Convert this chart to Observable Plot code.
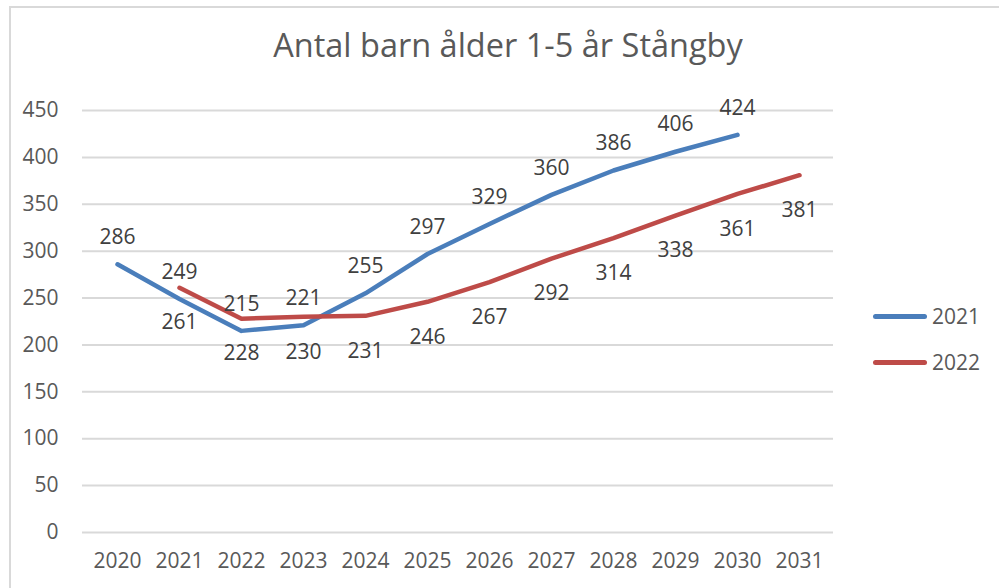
<!DOCTYPE html>
<html>
<head>
<meta charset="utf-8">
<script src="https://cdn.jsdelivr.net/npm/d3@7"></script>
<script src="https://cdn.jsdelivr.net/npm/@observablehq/plot@0.6"></script>
<style>
  html, body { margin: 0; padding: 0; background: #fff; }
  #wrap { position: relative; width: 999px; height: 588px; overflow: hidden; font-family: "Open Sans", sans-serif; }
  #border { position: absolute; left: 9px; top: 6px; width: 1200px; height: 800px; border: 2px solid #d9d9d9; box-sizing: border-box; }
  #title { position: absolute; left: 0; top: 22px; width: 1016px; text-align: center; font-size: 32.5px; color: #595959; line-height: 46px; }
  #chart { position: absolute; left: 0; top: 0; }
  #legend { position: absolute; left: 873px; top: 293px; font-size: 21px; color: #595959; }
  .item { display: flex; align-items: center; height: 46px; }
  .sw { width: 54px; height: 5px; border-radius: 3px; margin-right: 5px; }
</style>
</head>
<body>
<div id="wrap">
  <div id="border"></div>
  <div id="chart"></div>
  <div id="title">Antal barn ålder 1-5 år Stångby</div>
  <div id="legend"></div>
</div>
<script>
const years = ["2020","2021","2022","2023","2024","2025","2026","2027","2028","2029","2030","2031"];
const seriesNames = ["2021", "2022"];
const seriesColors = ["#4A7EBB", "#BE4B48"];
const years2021 = ["2020","2021","2022","2023","2024","2025","2026","2027","2028","2029","2030"];
const values2021 = [286, 249, 215, 221, 255, 297, 329, 360, 386, 406, 424];
const years2022 = ["2021","2022","2023","2024","2025","2026","2027","2028","2029","2030","2031"];
const values2022 = [261, 228, 230, 231, 246, 267, 292, 314, 338, 361, 381];
const yTicks = [0, 50, 100, 150, 200, 250, 300, 350, 400, 450];

const d21 = years2021.map((y, i) => ({year: y, value: values2021[i]}));
const d22 = years2022.map((y, i) => ({year: y, value: values2022[i]}));

const chart = Plot.plot({
  width: 999,
  height: 588,
  marginLeft: 82,
  marginRight: 166,
  marginTop: 110,
  marginBottom: 56,
  style: {fontFamily: "'Open Sans', sans-serif", fontSize: "21px", color: "#595959", background: "transparent"},
  x: {type: "point", domain: years, padding: 0.5, label: null},
  y: {domain: [0, 450], label: null},
  marks: [
    Plot.gridY(yTicks, {stroke: "#d9d9d9", strokeOpacity: 1, strokeWidth: 2}),
    Plot.axisY(yTicks, {tickSize: 0, tickPadding: 24, fill: "#595959", fontSize: 21, label: null}),
    Plot.axisX(years, {tickSize: 0, tickPadding: 21, fill: "#595959", fontSize: 21, label: null}),
    Plot.line(d21, {x: "year", y: "value", stroke: seriesColors[0], strokeWidth: 4.5, strokeLinecap: "round", strokeLinejoin: "round"}),
    Plot.line(d22, {x: "year", y: "value", stroke: seriesColors[1], strokeWidth: 4.5, strokeLinecap: "round", strokeLinejoin: "round"}),
    Plot.text(d21, {x: "year", y: "value", text: d => String(d.value), dy: -27, fill: "#404040", fontSize: 21}),
    Plot.text(d22, {x: "year", y: "value", text: d => String(d.value), dy: 35, fill: "#404040", fontSize: 21})
  ]
});
document.getElementById("chart").appendChild(chart);

const legend = document.getElementById("legend");
seriesNames.forEach((n, i) => {
  const item = document.createElement("div");
  item.className = "item";
  const sw = document.createElement("div");
  sw.className = "sw";
  sw.style.background = seriesColors[i];
  const lab = document.createElement("span");
  lab.textContent = n;
  item.appendChild(sw);
  item.appendChild(lab);
  legend.appendChild(item);
});
</script>
</body>
</html>
